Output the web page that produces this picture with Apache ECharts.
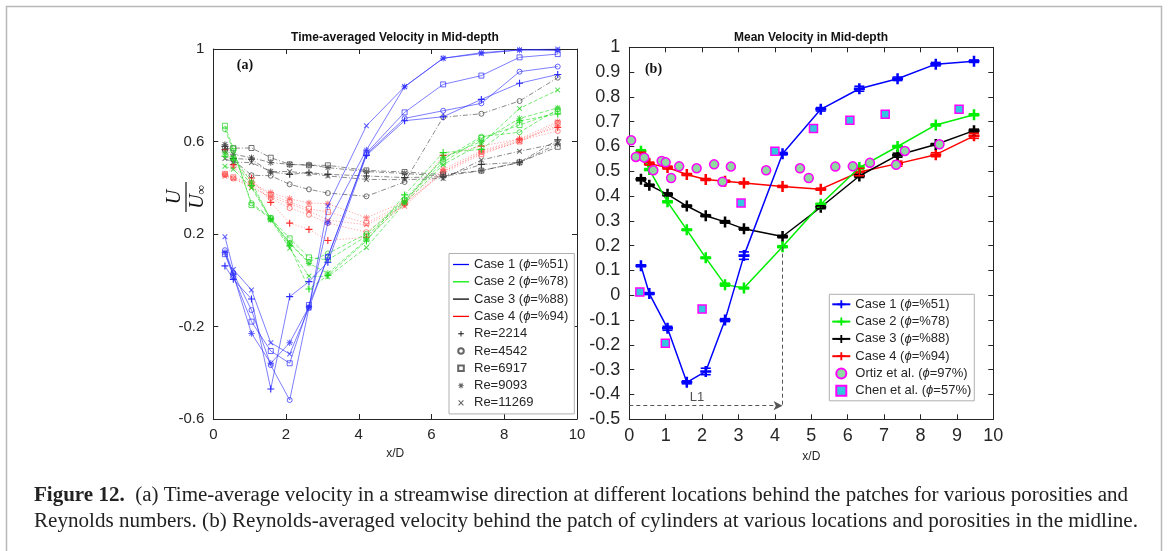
<!DOCTYPE html>
<html><head><meta charset="utf-8">
<script src="https://cdn.jsdelivr.net/npm/echarts@6/dist/echarts.min.js"></script>
<style>html,body{margin:0;padding:0;background:#fff}#c{width:1168px;height:551px}</style>
</head><body><div id="c"></div>
<script>
// ---------- DATA ----------
const xPos = [0.32, 0.55, 1.05, 1.58, 2.1, 2.63, 3.15, 4.21, 5.26, 6.32, 7.37, 8.42, 9.47];
const reLabels = ['Re=2214', 'Re=4542', 'Re=6917', 'Re=9093', 'Re=11269'];
const caseLabels = ['Case 1', 'Case 2', 'Case 3', 'Case 4'];
const casePhi = ['%51', '%78', '%88', '%94'];

// Panel (a): case 1 (phi=51%)
const c1Re2214  = [0.062, 0.004, -0.081, -0.470, -0.071, -0.006, 0.078, 0.540, 0.690, 0.707, 0.782, 0.852, 0.890];
const c1Re4542  = [0.130, 0.030, -0.129, -0.367, -0.518, -0.120, 0.102, 0.545, 0.700, 0.733, 0.765, 0.902, 0.924];
const c1Re6917  = [0.113, 0.020, -0.179, -0.306, -0.359, -0.107, 0.100, 0.550, 0.726, 0.847, 0.885, 0.964, 0.978];
const c1Re9093  = [0.120, 0.025, -0.230, -0.359, -0.270, -0.115, 0.249, 0.563, 0.837, 0.960, 0.984, 0.996, 0.993];
const c1Re11269 = [0.188, 0.047, -0.042, -0.270, -0.319, -0.120, 0.321, 0.668, 0.837, 0.960, 0.980, 0.996, 1.000];
// case 2 (phi=78%)
const c2Re2214  = [0.536, 0.520, 0.410, 0.266, 0.149, -0.038, 0.021, 0.170, 0.369, 0.552, 0.566, 0.689, 0.719];
const c2Re4542  = [0.653, 0.560, 0.333, 0.270, 0.160, 0.080, 0.116, 0.200, 0.350, 0.523, 0.621, 0.640, 0.739];
const c2Re6917  = [0.668, 0.570, 0.325, 0.268, 0.181, 0.099, 0.088, 0.190, 0.345, 0.510, 0.615, 0.671, 0.730];
const c2Re9093  = [0.550, 0.530, 0.425, 0.262, 0.160, 0.073, 0.030, 0.175, 0.340, 0.530, 0.600, 0.700, 0.745];
const c2Re11269 = [0.493, 0.480, 0.400, 0.262, 0.138, 0.018, 0.015, 0.142, 0.333, 0.500, 0.590, 0.743, 0.823];
// case 3 (phi=88%)
const c3Re2214  = [0.579, 0.526, 0.523, 0.468, 0.458, 0.465, 0.458, 0.451, 0.444, 0.447, 0.501, 0.510, 0.607];
const c3Re4542  = [0.560, 0.520, 0.454, 0.452, 0.415, 0.393, 0.377, 0.363, 0.425, 0.705, 0.720, 0.775, 0.876];
const c3Re6917  = [0.570, 0.571, 0.572, 0.530, 0.501, 0.497, 0.497, 0.475, 0.468, 0.457, 0.474, 0.510, 0.577];
const c3Re9093  = [0.587, 0.545, 0.530, 0.509, 0.501, 0.499, 0.487, 0.470, 0.462, 0.450, 0.474, 0.509, 0.590];
const c3Re11269 = [0.526, 0.510, 0.509, 0.470, 0.470, 0.462, 0.451, 0.436, 0.435, 0.440, 0.520, 0.558, 0.592];
// case 4 (phi=94%)
const c4Re2214  = [0.565, 0.500, 0.442, 0.337, 0.247, 0.220, 0.172, 0.186, 0.330, 0.540, 0.580, 0.611, 0.661];
const c4Re4542  = [0.455, 0.440, 0.410, 0.355, 0.312, 0.283, 0.247, 0.208, 0.330, 0.470, 0.555, 0.605, 0.645];
const c4Re6917  = [0.460, 0.445, 0.420, 0.370, 0.338, 0.309, 0.295, 0.247, 0.333, 0.462, 0.545, 0.600, 0.680];
const c4Re9093  = [0.458, 0.490, 0.420, 0.379, 0.353, 0.334, 0.331, 0.270, 0.340, 0.480, 0.560, 0.611, 0.686];
const c4Re11269 = [0.450, 0.440, 0.400, 0.360, 0.330, 0.300, 0.260, 0.240, 0.320, 0.470, 0.550, 0.600, 0.670];

// Panel (b): mean velocity and error half-widths
const bCase1 = [0.119, 0.007, -0.133, -0.351, -0.307, -0.100, 0.160, 0.571, 0.750, 0.833, 0.873, 0.932, 0.944];
const bCase2 = [0.581, 0.507, 0.377, 0.264, 0.151, 0.043, 0.029, 0.196, 0.367, 0.515, 0.600, 0.687, 0.728];
const bCase3 = [0.468, 0.444, 0.407, 0.360, 0.321, 0.296, 0.268, 0.237, 0.355, 0.481, 0.565, 0.608, 0.664];
const bCase4 = [0.565, 0.531, 0.515, 0.487, 0.467, 0.460, 0.453, 0.439, 0.428, 0.497, 0.531, 0.567, 0.643];
const bErr1 = [0.004, 0.004, 0.008, 0.006, 0.013, 0.006, 0.015, 0.005, 0.007, 0.010, 0.007, 0.007, 0.005];
const bErr2 = [0.006, 0.004, 0.004, 0.003, 0.003, 0.006, 0.003, 0.004, 0.004, 0.006, 0.004, 0.004, 0.004];
const bErr3 = [0.006, 0.004, 0.006, 0.004, 0.004, 0.005, 0.005, 0.005, 0.006, 0.006, 0.008, 0.004, 0.006];
const bErr4 = [0.012, 0.006, 0.006, 0.004, 0.004, 0.004, 0.004, 0.004, 0.004, 0.015, 0.010, 0.008, 0.010];
const ortizX = [0.05, 0.18, 0.41, 0.66, 0.89, 1.00, 1.15, 1.37, 1.85, 2.33, 2.56, 2.79, 3.76, 4.69, 4.93, 5.66, 6.14, 6.61, 7.33, 7.57, 8.52];
const ortizY = [0.625, 0.558, 0.555, 0.504, 0.542, 0.536, 0.473, 0.520, 0.512, 0.528, 0.458, 0.519, 0.504, 0.512, 0.473, 0.519, 0.520, 0.534, 0.526, 0.582, 0.609];
const chenX = [0.29, 0.99, 2.00, 3.07, 4.00, 5.06, 6.06, 7.03, 9.06];
const chenY = [0.013, -0.193, -0.055, 0.372, 0.581, 0.673, 0.706, 0.730, 0.750];
const l1Length = 4.21, l1TopY = 0.196, l1LineY = -0.445;
const l1LabelPos = [1.86, -0.41];

const yTicksA = [-0.6, -0.2, 0.2, 0.6, 1];

// ---------- STYLES ----------
function bars(angles, len, th) {
  let p = '';
  angles.forEach(a => {
    const r = a * Math.PI / 180, c = Math.cos(r), s = Math.sin(r);
    const pts = [[-len/2, -th/2], [len/2, -th/2], [len/2, th/2], [-len/2, th/2]]
      .map(([x, y]) => [(x * c - y * s + 10).toFixed(3), (x * s + y * c + 10).toFixed(3)]);
    p += 'M' + pts[0].join(',') + 'L' + pts[1].join(',') + 'L' + pts[2].join(',') + 'L' + pts[3].join(',') + 'Z';
  });
  return 'path://' + p;
}
const PLUS_A = bars([0, 90], 20, 3.2);
const CROSS_A = bars([45, 135], 20, 3.2);
const STAR_A = bars([0, 45, 90, 135], 20, 3.0);
const PLUS_B = bars([0, 90], 20, 4.6);
const LINE_ICON = 'path://M0,0H100V8H0Z';
const SQUARE_ICON = 'path://M0,0H10V10H0Z';

const FONT = 'Liberation Sans';
const TXT = '#262626';
const lineColA = ['rgba(40,40,255,0.6)', 'rgba(30,220,30,0.6)', 'rgba(60,60,60,0.6)', 'rgba(255,60,60,0.45)'];
const markColA = ['#2a2aff', '#22dd22', '#333333', '#ff2a2a'];
const markColALight = ['rgba(40,40,255,0.7)', 'rgba(30,210,30,0.7)', 'rgba(70,70,70,0.75)', 'rgba(255,70,70,0.65)'];
const dashA = ['solid', [4, 2], [5, 2, 1, 2], [1.2, 1.8]];
const reSym = [PLUS_A, 'circle', 'rect', STAR_A, CROSS_A];
const reSize = [7, 5, 5, 6.5, 5.5];
const caseColB = ['#0000ff', '#00ee00', '#000000', '#ff0000'];

const dataA = [
  [c1Re2214, c1Re4542, c1Re6917, c1Re9093, c1Re11269],
  [c2Re2214, c2Re4542, c2Re6917, c2Re9093, c2Re11269],
  [c3Re2214, c3Re4542, c3Re6917, c3Re9093, c3Re11269],
  [c4Re2214, c4Re4542, c4Re6917, c4Re9093, c4Re11269]
];
const dataB = [bCase1, bCase2, bCase3, bCase4];
const errB = [bErr1, bErr2, bErr3, bErr4];

function markerStyle(j, col) {
  if (reSym[j] === 'circle' || reSym[j] === 'rect') return {color: 'rgba(0,0,0,0)', borderColor: col, borderWidth: 1};
  return {color: col, borderWidth: 0};
}

const series = [];
dataA.forEach((group, i) => {
  group.forEach((vals, j) => {
    series.push({
      type: 'line', xAxisIndex: 0, yAxisIndex: 0, name: 'A_' + i + '_' + j, silent: true,
      data: xPos.map((x, k) => [x, vals[k]]),
      symbol: reSym[j], symbolSize: reSize[j],
      lineStyle: {color: lineColA[i], width: 1, type: dashA[i]},
      itemStyle: markerStyle(j, j === 0 ? markColA[i] : markColALight[i]),
      z: 2 + (3 - i) * 0.1
    });
  });
});
const legendAData = [], legendALabels = {};
caseLabels.forEach((c, i) => {
  const n = 'LA_case' + i;
  legendAData.push({name: n, icon: LINE_ICON});
  legendALabels[n] = c + ' ({i|ϕ}=' + casePhi[i] + ')';
  series.push({type: 'line', xAxisIndex: 0, yAxisIndex: 0, name: n, data: [], symbol: 'none',
    lineStyle: {color: caseColB[i], width: 1.3}, itemStyle: {color: caseColB[i]}});
});
reLabels.forEach((r, j) => {
  const n = 'LA_re' + j;
  legendAData.push({name: n});
  legendALabels[n] = r;
  series.push({type: 'line', xAxisIndex: 0, yAxisIndex: 0, name: n, data: [], symbol: reSym[j],
    lineStyle: {width: 0, color: 'rgba(0,0,0,0)'}, itemStyle: markerStyle(j, j === 0 ? '#111' : '#666')});
});

const legendBData = [], legendBLabels = {};
dataB.forEach((vals, i) => {
  const n = 'LB_case' + i;
  legendBData.push({name: n});
  legendBLabels[n] = caseLabels[i] + ' ({i|ϕ}=' + casePhi[i] + ')';
  series.push({type: 'line', xAxisIndex: 2, yAxisIndex: 2, name: n,
    data: xPos.map((x, k) => [x, vals[k]]),
    symbol: PLUS_B, symbolSize: 11,
    lineStyle: {color: caseColB[i], width: 1.5}, itemStyle: {color: caseColB[i]}, z: 3 + (3 - i) * 0.1});
  series.push({type: 'custom', xAxisIndex: 2, yAxisIndex: 2, name: 'EB_' + i, silent: true, z: 4,
    data: xPos.map((x, k) => [x, vals[k], errB[i][k]]),
    renderItem: (p, api) => {
      const x = api.value(0), y = api.value(1), e = api.value(2);
      const t = api.coord([x, y + e]), b = api.coord([x, y - e]);
      const w = 5, st = {stroke: caseColB[i], lineWidth: 1.6};
      return {type: 'group', children: [
        {type: 'line', shape: {x1: t[0], y1: t[1], x2: b[0], y2: b[1]}, style: st},
        {type: 'line', shape: {x1: t[0] - w, y1: t[1], x2: t[0] + w, y2: t[1]}, style: st},
        {type: 'line', shape: {x1: b[0] - w, y1: b[1], x2: b[0] + w, y2: b[1]}, style: st}
      ]};
    }
  });
});
legendBData.push({name: 'LB_ortiz'}, {name: 'LB_chen', icon: SQUARE_ICON});
legendBLabels['LB_ortiz'] = 'Ortiz et al. ({i|ϕ}=97%)';
legendBLabels['LB_chen'] = 'Chen et al. ({i|ϕ}=57%)';
series.push({type: 'scatter', xAxisIndex: 2, yAxisIndex: 2, name: 'LB_ortiz', z: 5,
  data: ortizX.map((x, k) => [x, ortizY[k]]), symbol: 'circle', symbolSize: 9,
  itemStyle: {color: '#8fd9a0', borderColor: '#ff00ff', borderWidth: 1.5, opacity: 1}});
series.push({type: 'scatter', xAxisIndex: 2, yAxisIndex: 2, name: 'LB_chen', z: 5,
  data: chenX.map((x, k) => [x, chenY[k]]), symbol: 'rect', symbolSize: 8,
  itemStyle: {color: '#33c6e0', borderColor: '#ff00ff', borderWidth: 1.5, opacity: 1}});
series.push({type: 'line', xAxisIndex: 2, yAxisIndex: 2, name: 'L1', data: [], silent: true,
  markLine: {silent: true, animation: false, label: {show: false},
    lineStyle: {color: '#555', type: [4, 3], width: 1},
    data: [
      [{coord: [0, l1LineY], symbol: 'none'}, {coord: [l1Length, l1LineY], symbol: 'arrow', symbolSize: [7, 9]}],
      [{coord: [l1Length, l1TopY], symbol: 'none'}, {coord: [l1Length, l1LineY], symbol: 'none'}]
    ]}});
series.push({type: 'scatter', xAxisIndex: 2, yAxisIndex: 2, name: 'L1lab', silent: true,
  data: [l1LabelPos], symbolSize: 0,
  label: {show: true, formatter: 'L1', position: 'inside', fontFamily: FONT, fontSize: 13, color: TXT}});

// ---------- AXES ----------
function xAx(grid, pos, fs, interval, showLabel) {
  return {type: 'value', gridIndex: grid, position: pos, min: 0, max: 10, interval: interval,
    axisLine: {onZero: false, lineStyle: {color: TXT, width: 1}}, splitLine: {show: false},
    axisTick: {inside: true, length: 5, lineStyle: {color: TXT}},
    axisLabel: {show: showLabel, fontFamily: FONT, fontSize: fs, color: TXT, margin: 8},
    name: showLabel ? 'x/D' : '', nameLocation: 'middle', nameGap: 29,
    nameTextStyle: {fontFamily: FONT, fontSize: 12, color: TXT}};
}
function yAx(grid, pos, fs, min, max, interval, showLabel, custom) {
  const o = {type: 'value', gridIndex: grid, position: pos, min: min, max: max, interval: interval,
    axisLine: {show: true, onZero: false, lineStyle: {color: TXT, width: 1}}, splitLine: {show: false},
    axisTick: {show: true, inside: true, length: 5, lineStyle: {color: TXT}},
    axisLabel: {show: showLabel, fontFamily: FONT, fontSize: fs, color: TXT, margin: 9}};
  if (custom) { o.axisLabel.customValues = custom; o.axisTick.customValues = custom; }
  return o;
}

const legendCommon = {
  orient: 'vertical', backgroundColor: '#fff', borderColor: '#b0b0b0', borderWidth: 1, borderRadius: 0,
  itemHeight: 10, itemGap: 3.3, selectedMode: false,
  textStyle: {fontFamily: FONT, fontSize: 13, color: TXT, lineHeight: 14,
    rich: {i: {fontFamily: FONT, fontSize: 13, fontStyle: 'italic', color: TXT, lineHeight: 14}}}
};

const option = {
  animation: false,
  backgroundColor: '#fff',
  grid: [
    {left: 213.3, top: 49, width: 363.7, height: 370},
    {left: 629.3, top: 47.3, width: 364, height: 372}
  ],
  xAxis: [xAx(0, 'bottom', 15, 2, true), xAx(0, 'top', 15, 2, false), xAx(1, 'bottom', 18, 1, true), xAx(1, 'top', 18, 1, false)],
  yAxis: [yAx(0, 'left', 15, -0.6, 1, 0.2, true, yTicksA), yAx(0, 'right', 15, -0.6, 1, 0.2, false, yTicksA),
          yAx(1, 'left', 18, -0.5, 1, 0.1, true), yAx(1, 'right', 18, -0.5, 1, 0.1, false)],
  legend: [
    Object.assign({}, legendCommon, {left: 449, top: 253.5, itemWidth: 16, itemHeight: 7, padding: [4, 6, 4, 4],
      data: legendAData, formatter: n => legendALabels[n]}),
    Object.assign({}, legendCommon, {left: 829.3, top: 294.3, itemWidth: 18, padding: [3, 3, 3, 2],
      data: legendBData, formatter: n => legendBLabels[n]})
  ],
  series: series,
  graphic: []
};

// ---------- TEXT DECORATIONS ----------
const g = option.graphic;
g.push({type: 'rect', shape: {x: 6.5, y: 6.5, width: 1155, height: 620}, style: {fill: 'none', stroke: '#b8b8b8', lineWidth: 1.5}, silent: true, z: 0});
g.push({type: 'text', x: 395, y: 37.5, style: {text: 'Time-averaged Velocity in Mid-depth', font: 'bold 12px "Liberation Sans"', fill: '#111', align: 'center', verticalAlign: 'middle'}});
g.push({type: 'text', x: 811, y: 37.5, style: {text: 'Mean Velocity in Mid-depth', font: 'bold 12px "Liberation Sans"', fill: '#111', align: 'center', verticalAlign: 'middle'}});
g.push({type: 'text', x: 245, y: 65, style: {text: '(a)', font: 'bold 14px "Liberation Serif"', fill: '#111', align: 'center', verticalAlign: 'middle'}});
g.push({type: 'text', x: 653.5, y: 69, style: {text: '(b)', font: 'bold 14px "Liberation Serif"', fill: '#111', align: 'center', verticalAlign: 'middle'}});
g.push({type: 'group', x: 186, y: 197, rotation: Math.PI / 2, children: [
  {type: 'text', x: 0, y: -1, style: {text: 'U', font: 'italic 20px "Liberation Serif"', fill: '#111', align: 'center', verticalAlign: 'bottom'}},
  {type: 'line', shape: {x1: -15, y1: 0, x2: 15, y2: 0}, style: {stroke: '#111', lineWidth: 1.2}},
  {type: 'text', x: 0, y: 1, style: {text: '{u|U}{s|∞}', align: 'center', verticalAlign: 'top',
    rich: {u: {fontFamily: 'Liberation Serif', fontStyle: 'italic', fontSize: 20, fill: '#111'},
           s: {fontFamily: 'Liberation Serif', fontStyle: 'italic', fontSize: 13, fill: '#111', verticalAlign: 'bottom', padding: [8, 0, 0, 0]}}}}
]});
const capLines = [
  ['Figure 12.', '  (a) Time-average velocity in a streamwise direction at different locations behind the patches for various porosities and', 34, 1128, 496],
  ['', 'Reynolds numbers. (b) Reynolds-averaged velocity behind the patch of cylinders at various locations and porosities in the midline.', 34, 1138, 522]
];
const cv = document.createElement('canvas').getContext('2d');
capLines.forEach(([b, r, x0, x1, y]) => {
  cv.font = 'bold 20px "Liberation Serif"'; const wb = b ? cv.measureText(b).width : 0;
  cv.font = '20px "Liberation Serif"'; const wr = cv.measureText(r).width;
  const sx = (x1 - x0) / (wb + wr);
  const txt = (b ? '{b|' + b + '}' : '') + '{r|' + r + '}';
  g.push({type: 'text', x: x0, y: y, scaleX: sx, style: {text: txt, align: 'left', verticalAlign: 'middle',
    rich: {b: {fontFamily: 'Liberation Serif', fontWeight: 'bold', fontSize: 20, fill: '#222'},
           r: {fontFamily: 'Liberation Serif', fontSize: 20, fill: '#222'}}}});
});

const chart = echarts.init(document.getElementById('c'), null, {renderer: 'canvas'});
chart.setOption(option);
</script></body></html>
